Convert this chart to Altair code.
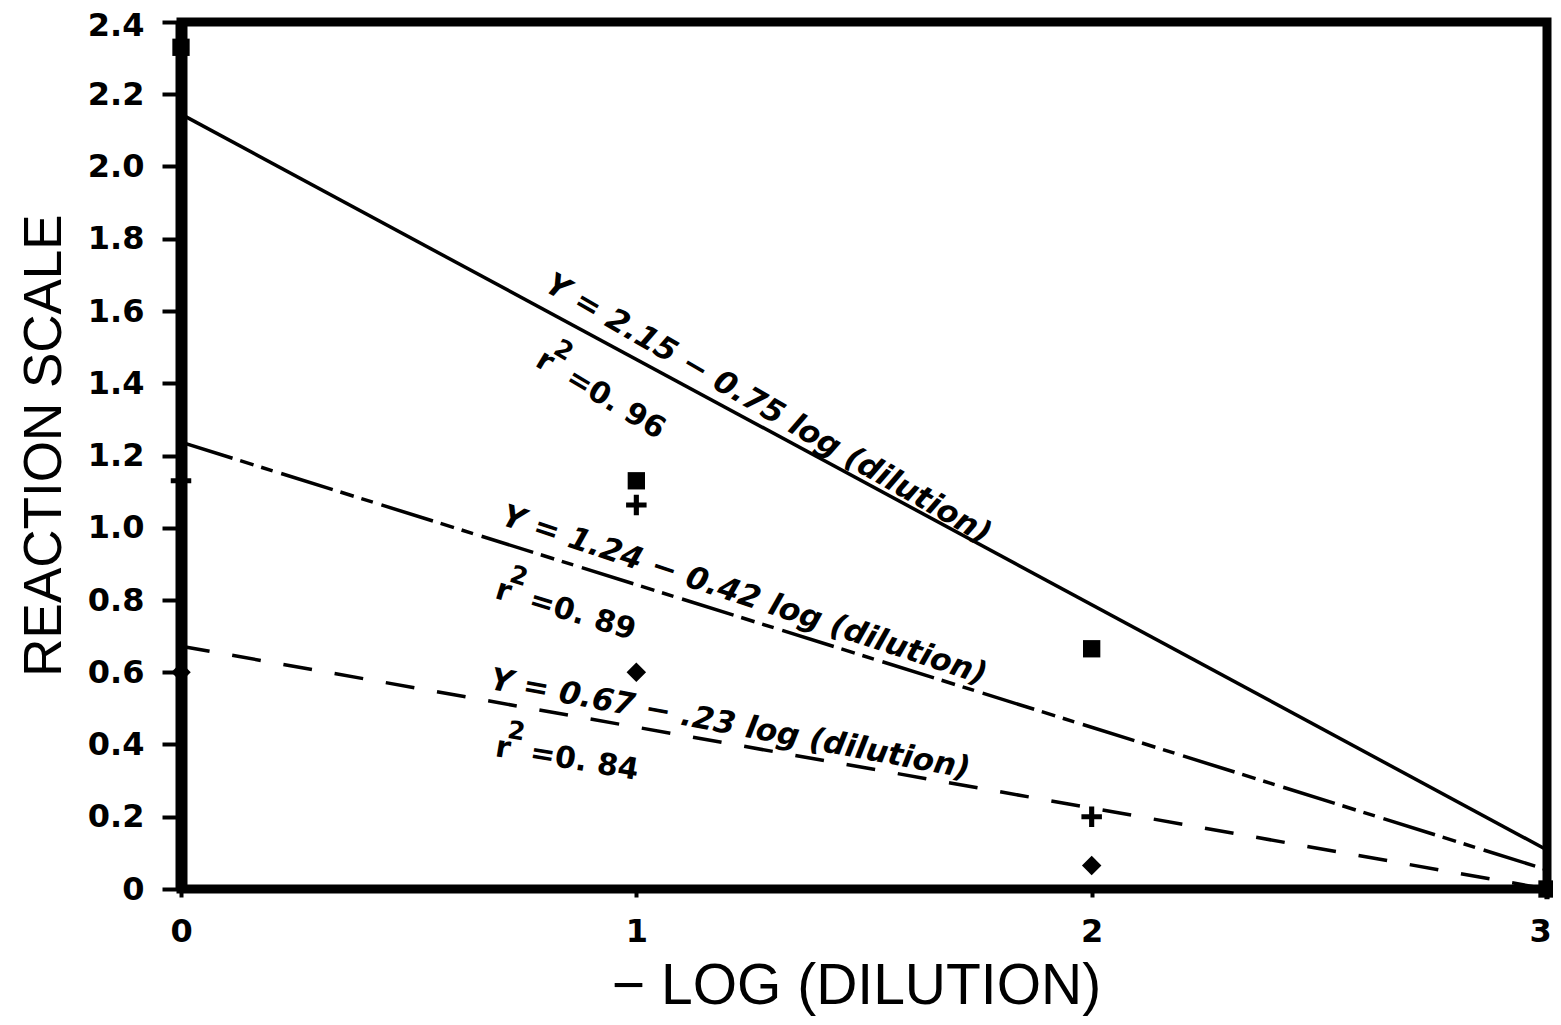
import altair as alt
import pandas as pd

# ---- data ----
x_vals = [0, 1, 2, 3]
square_y = [2.33, 1.13, 0.665, 0.0]
plus_y = [1.13, 1.063, 0.20, 0.0]
diamond_y = [0.60, 0.60, 0.065, 0.0]

line_names = ["solid", "dashdot", "dashed"]
line_x0 = [0, 0, 0]
line_y0 = [2.145, 1.237, 0.672]
line_x1 = [3, 3, 3]
line_y1 = [0.108, 0.053, 0.0]

eq_text = ["Y = 2.15 \u2212 0.75 log (dilution)",
           "Y = 1.24 \u2212 0.42 log (dilution)",
           "Y = 0.67 \u2212 .23 log (dilution)"]
eq_x = [0.795, 0.700, 0.676]
eq_y = [1.658, 1.010, 0.554]
eq_angle = [30, 18.4, 10.6]

r2_val = ["=0. 96", "=0. 89", "=0. 84"]
r2_x = [0.775, 0.687, 0.688]
r2_y = [1.450, 0.806, 0.368]
r2_angle = [31, 17, 9.5]

x_ticks = [0, 1, 2, 3]
y_ticks = [0, 0.2, 0.4, 0.6, 0.8, 1.0, 1.2, 1.4, 1.6, 1.8, 2.0, 2.2, 2.4]

# ---- tables ----
pts = pd.DataFrame({
    "x": x_vals * 3,
    "y": square_y + plus_y + diamond_y,
    "kind": ["square"] * 4 + ["plus"] * 4 + ["diamond"] * 4,
})
lines = pd.DataFrame({"name": line_names, "x": line_x0, "y": line_y0,
                      "x2": line_x1, "y2": line_y1})
eqs = pd.DataFrame({"text": eq_text, "x": eq_x, "y": eq_y, "angle": eq_angle})
r2 = pd.DataFrame({"val": r2_val, "x": r2_x, "y": r2_y, "angle": r2_angle})

xs = alt.Scale(domain=[0, 3], nice=False, zero=False)
ys = alt.Scale(domain=[0, 2.4], nice=False, zero=False)

xaxis = alt.Axis(
    values=x_ticks, format="d", grid=False, domain=False,
    tickSize=8, tickWidth=4, tickColor="black",
    labelFont="DejaVu Sans", labelFontWeight="bold", labelFontSize=32,
    labelColor="black", labelPadding=19, labelFlush=False, labelOverlap=False,
    labelOffset={"condition": {"test": "datum.value == 3", "value": -7}, "value": 0},
    title="\u2212  LOG  (DILUTION)", titleFont="Liberation Sans",
    titleFontWeight="normal", titleFontSize=57, titleColor="black",
    titleX=675, titleY=114, titleAlign="center", titleBaseline="alphabetic",
)
yaxis = alt.Axis(
    values=y_ticks, grid=False, domain=True, domainWidth=12, domainColor="black",
    labelExpr="datum.value == 0 ? '0' : format(datum.value, '.1f')",
    tickSize=19, tickWidth=4, tickColor="black",
    labelFont="DejaVu Sans", labelFontWeight="bold", labelFontSize=32,
    labelColor="black", labelPadding=18, labelFlush=False, labelOverlap=False,
    labelOffset={"condition": {"test": "datum.value == 2.4", "value": 3}, "value": 0},
    title="REACTION  SCALE", titleFont="Liberation Sans",
    titleFontWeight="normal", titleFontSize=53, titleColor="black",
    titleAngle=270, titleX=-121, titleY=423, titleAlign="center",
    titleBaseline="alphabetic",
)

X = alt.X("x:Q", scale=xs, axis=xaxis)
Y = alt.Y("y:Q", scale=ys, axis=yaxis)

def rule(name, dash):
    kw = dict(color="black", strokeWidth=3.5, clip=False)
    if dash:
        kw["strokeDash"] = dash
    return alt.Chart(lines).transform_filter(
        alt.datum.name == name).mark_rule(**kw).encode(
        x=X, y=Y, x2="x2:Q", y2="y2:Q")

solid = rule("solid", None)
dashdot = rule("dashdot", [54, 8, 14, 8, 12, 9])
dashed = rule("dashed", [29, 23])

plus_path = "M-1,-0.25H-0.25V-1H0.25V-0.25H1V0.25H0.25V1H-0.25V0.25H-1Z"

def markers(kind, shape, size):
    return alt.Chart(pts).transform_filter(alt.datum.kind == kind).mark_point(
        shape=shape, size=size, filled=True, color="black", opacity=1,
        strokeWidth=0, clip=False).encode(x=X, y=Y)

sq = markers("square", "square", 300)
pl = markers("plus", plus_path, 420)
di = markers("diamond", "diamond", 380)

eq_layer = alt.Chart(eqs).mark_text(
    font="DejaVu Sans", fontWeight="bold", fontStyle="italic", fontSize=31,
    align="left", baseline="alphabetic", color="black").encode(
    x=X, y=Y, text="text:N", angle=alt.Angle("angle:Q", scale=None))

r_layer = alt.Chart(r2).mark_text(
    font="DejaVu Sans", fontWeight="bold", fontSize=30,
    align="left", baseline="alphabetic", color="black").encode(
    x=X, y=Y, text=alt.value("r"), angle=alt.Angle("angle:Q", scale=None))
sup_layer = alt.Chart(r2).mark_text(
    font="DejaVu Sans", fontWeight="bold", fontSize=25, dx=9, dy=-20,
    align="left", baseline="alphabetic", color="black").encode(
    x=X, y=Y, text=alt.value("2"), angle=alt.Angle("angle:Q", scale=None))
val_layer = alt.Chart(r2).mark_text(
    font="DejaVu Sans", fontWeight="bold", fontSize=30, dx=35,
    align="left", baseline="alphabetic", color="black").encode(
    x=X, y=Y, text="val:N", angle=alt.Angle("angle:Q", scale=None))

chart = alt.layer(
    solid, dashdot, dashed, sq, pl, di, eq_layer, r_layer, sup_layer, val_layer
).properties(
    width=1366, height=867, autosize="none",
    padding={"left": 173, "top": 14, "right": 6, "bottom": 128},
    background="white",
).configure_view(stroke="black", strokeWidth=9)

chart.save("out.html", embed_options={"renderer": "svg", "actions": False})
